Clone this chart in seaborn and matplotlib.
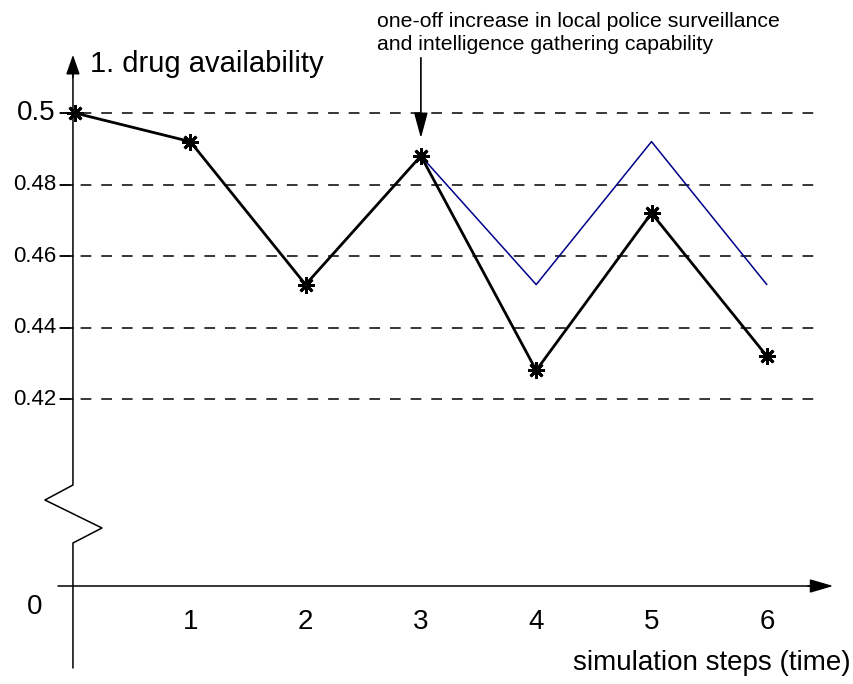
import pandas as pd
import matplotlib.pyplot as plt
import seaborn as sns

# values
steps = [0, 1, 2, 3, 4, 5, 6]
availability = [0.500, 0.492, 0.452, 0.488, 0.428, 0.472, 0.432]
alt_steps = [3, 4, 5, 6]
alt_availability = [0.488, 0.452, 0.492, 0.452]
grid_levels = [0.50, 0.48, 0.46, 0.44, 0.42]
grid_labels = ["0.5", "0.48", "0.46", "0.44", "0.42"]
x_ticks = [1, 2, 3, 4, 5, 6]

sns.set_theme(style="white")
plt.rcParams["font.family"] = ["Liberation Sans", "DejaVu Sans"]
plt.rcParams["text.color"] = "black"

df = pd.DataFrame({"step": steps, "value": availability})
df_alt = pd.DataFrame({"step": alt_steps, "value": alt_availability})

fig = plt.figure(figsize=(8.54, 6.84), dpi=100)
ax = fig.add_axes([0, 0, 1, 1])
ax.set_xlim(-0.650, 6.756)
ax.set_ylim(0.34028, 0.53161)
ax.axis("off")

# pixel -> data helpers for the schematic parts
def px(x):
    return (x - 75) / 115.3

def py(y):
    return 0.5 - (y - 113) / 71.5 * 0.02

x_base = py(586)

# dashed guide lines and y labels
for lev, lab in zip(grid_levels, grid_labels):
    ax.plot([px(60), px(822)], [lev, lev], color="black", lw=1.1,
            dashes=(7, 6.5))
    ax.plot([px(60), px(73)], [lev, lev], color="black", lw=1.1)
    ax.text(px(56), lev, lab, ha="right", va="center",
            fontsize=20 if lab == "0.5" else 16, color="black")

# y axis with break
ax.plot([px(73), px(73), px(45), px(102), px(73), px(73)],
        [py(72), py(485), py(500), py(528), py(543), py(668)],
        color="black", lw=1.1)
ax.annotate("", xy=(px(73), py(52)), xytext=(px(73), py(80)),
            arrowprops=dict(arrowstyle="-|>,head_width=0.35,head_length=1.0",
                            color="black", lw=1.1))
ax.text(px(90), py(64), "1. drug availability", ha="left", va="center",
        fontsize=21, color="black")

# x axis
ax.plot([px(58), px(815)], [x_base, x_base], color="black", lw=1.1)
ax.annotate("", xy=(px(836), x_base), xytext=(px(805), x_base),
            arrowprops=dict(arrowstyle="-|>,head_width=0.35,head_length=1.2",
                            color="black", lw=1.1))
ax.text(px(35), py(607), "0", ha="center", va="center", fontsize=20,
        color="black")
for t in x_ticks:
    ax.text(t, py(622), str(t), ha="center", va="center", fontsize=20,
            color="black")
ax.text(px(851), py(663), "simulation steps (time)", ha="right",
        va="center", fontsize=20, color="black")

# series
sns.lineplot(x="step", y="value", data=df_alt, ax=ax, color="#00008B",
             lw=1.1, legend=False)
sns.lineplot(x="step", y="value", data=df, ax=ax, color="black", lw=2.0,
             marker=(8, 2, 0), markersize=12, markeredgewidth=2.0,
             markeredgecolor="black", legend=False)

# intervention annotation
ax.text(px(377), py(33), "one-off increase in local police surveillance\n"
        "and intelligence gathering capability", ha="left", va="center",
        fontsize=15.3, linespacing=1.3, color="black")
ax.annotate("", xy=(3, py(141)), xytext=(3, py(55)),
            arrowprops=dict(arrowstyle="-|>,head_width=0.35,head_length=1.3",
                            color="black", lw=1.2))

fig.savefig("out.png", dpi=100)
